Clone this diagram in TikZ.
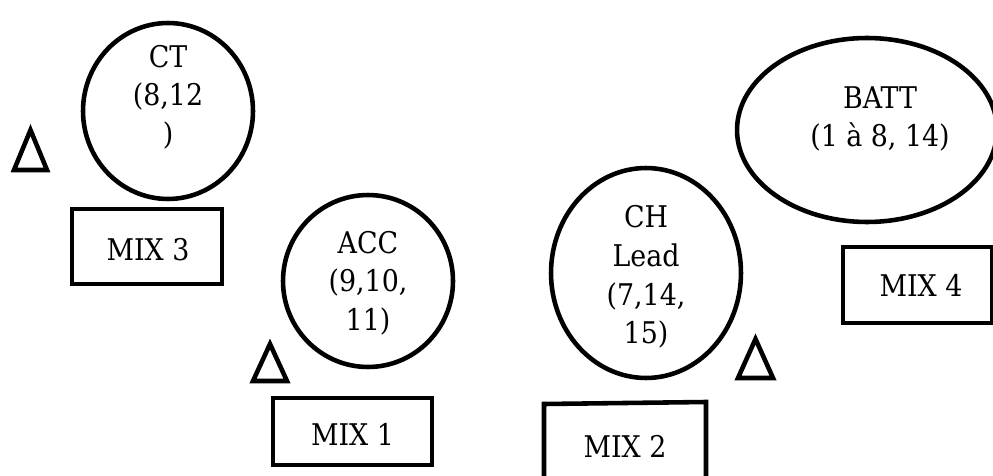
\documentclass[tikz,border=0pt]{standalone}
\usepackage{fontspec}
\setmainfont{DejaVu Serif Condensed}
\usetikzlibrary{shapes.geometric}
\tikzset{
  shp/.style={draw=black, line width=2.6pt},
  oval/.style={shp, ellipse, inner sep=0pt},
  mixbox/.style={shp, rectangle, inner sep=0pt},
  lbl/.style={align=center, inner sep=0pt, font=\fontsize{17}{22}\selectfont},
  tri/.style={draw=black, line width=2.6pt, line join=miter}
}
\begin{document}
\begin{tikzpicture}[x=0.02cm,y=-0.02cm]
\useasboundingbox (0,0) rectangle (993,476);
% CT
\node[oval, minimum width=3.4cm, minimum height=3.52cm] (ct) at (168,111) {};
\node[lbl] (ctt) at (168,97) {CT\\(8,12\\)};
\draw[tri] (14,170) -- (30.5,130) -- (47,170) -- cycle;
\node[mixbox, minimum width=3.0cm, minimum height=1.5cm] (mix3) at (147,246.5) {};
\node[lbl] (mix3t) at (148,250) {MIX 3};
% ACC
\node[oval, minimum width=3.4cm, minimum height=3.44cm] (acc) at (368,281) {};
\node[lbl] (acct) at (368,283) {ACC\\(9,10,\\11)};
\draw[tri] (253,381) -- (270,344) -- (287,381) -- cycle;
\node[mixbox, minimum width=3.18cm, minimum height=1.34cm] (mix1) at (352.5,431.5) {};
\node[lbl] (mix1t) at (352.5,434) {MIX 1};
% CH Lead
\node[oval, minimum width=3.8cm, minimum height=4.2cm] (ch) at (646,273) {};
\node[lbl] (cht) at (646,277) {CH\\Lead\\(7,14,\\15)};
\draw[tri] (738,378) -- (755.5,339) -- (773,378) -- cycle;
\draw[shp] (544,492) -- (544,404) -- (706,402) -- (706,492);
\node[lbl] (mix2t) at (625,446) {MIX 2};
% BATT
\node[oval, minimum width=5.2cm, minimum height=3.68cm] (batt) at (867,130) {};
\node[lbl] (battt) at (880,119) {BATT\\(1 à 8, 14)};
\node[mixbox, minimum width=2.98cm, minimum height=1.52cm] (mix4) at (917.5,285) {};
\node[lbl] (mix4t) at (921,285) {MIX 4};
\end{tikzpicture}
\end{document}
